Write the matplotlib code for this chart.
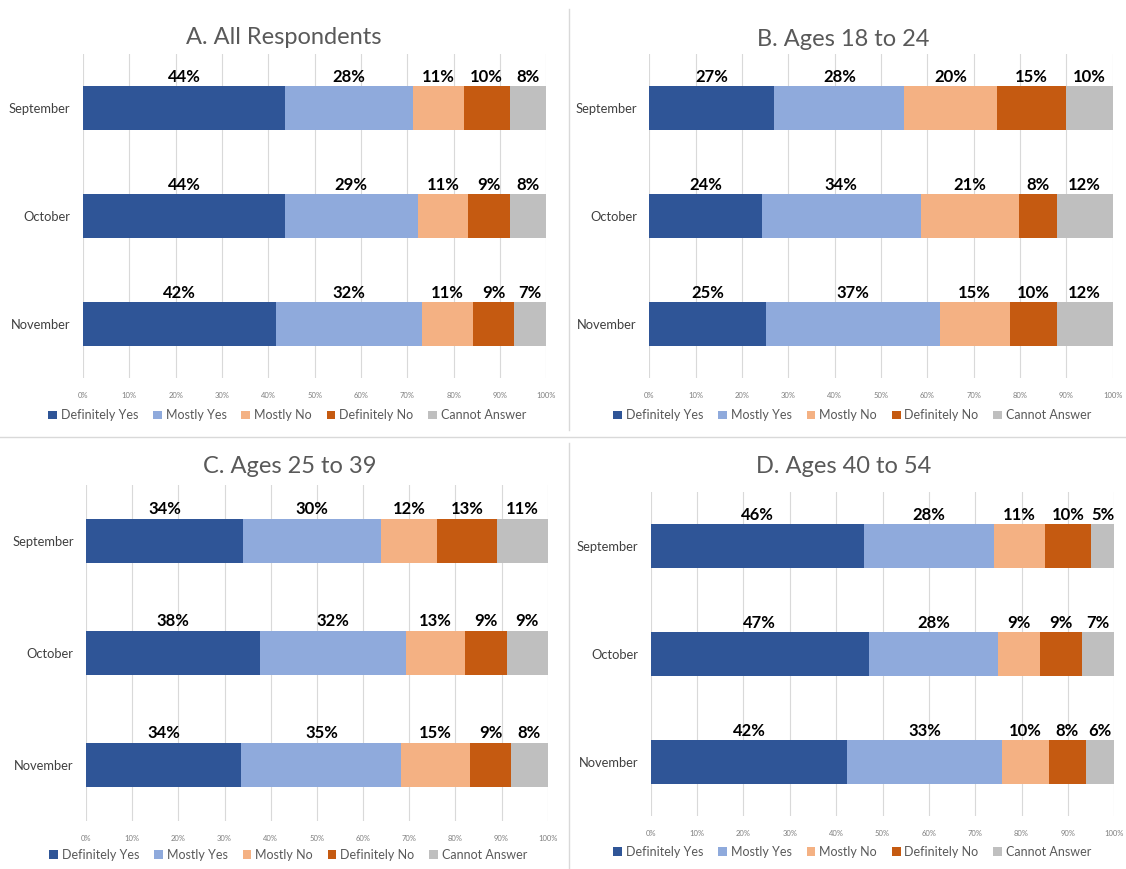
import numpy as np
import matplotlib
matplotlib.use("Agg")
from matplotlib import pyplot as plt
from matplotlib.patches import Patch
from matplotlib.lines import Line2D

plt.rcParams['font.family'] = ['Lato', 'DejaVu Sans']

months = ["September", "October", "November"]
answers = ["Definitely Yes", "Mostly Yes", "Mostly No", "Definitely No", "Cannot Answer"]
colors = ["#2F5597", "#8FAADC", "#F4B183", "#C55A11", "#BFBFBF"]

titles = ["A. All Respondents", "B. Ages 18 to 24", "C. Ages 25 to 39", "D. Ages 40 to 54"]

# rows: September, October, November; columns: answers (percent labels as printed)
all_resp = [[44, 28, 11, 10, 8],
            [44, 29, 11, 9, 8],
            [42, 32, 11, 9, 7]]
ages_18_24 = [[27, 28, 20, 15, 10],
              [24, 34, 21, 8, 12],
              [25, 37, 15, 10, 12]]
ages_25_39 = [[34, 30, 12, 13, 11],
              [38, 32, 13, 9, 9],
              [34, 35, 15, 9, 8]]
ages_40_54 = [[46, 28, 11, 10, 5],
              [47, 28, 9, 9, 7],
              [42, 33, 10, 8, 6]]
panels = [all_resp, ages_18_24, ages_25_39, ages_40_54]

# axes rectangles, title positions, legend positions (figure fractions)
ax_rects = [[0.0737, 0.565, 0.4115, 0.373],
            [0.5767, 0.565, 0.4115, 0.373],
            [0.0764, 0.0552, 0.4100, 0.3867],
            [0.5780, 0.061, 0.4115, 0.3728]]
title_xy = [(0.252, 0.957), (0.749, 0.954), (0.2575, 0.463), (0.7496, 0.463)]
legend_xy = [(0.255, 0.522), (0.757, 0.522), (0.256, 0.016), (0.757, 0.020)]

fig = plt.figure(figsize=(11.26, 8.69), dpi=100)

for k, data in enumerate(panels):
    ax = fig.add_axes(ax_rects[k])
    vals = np.array(data, dtype=float)
    shares = vals / vals.sum(axis=1, keepdims=True) * 100
    y = np.arange(len(months))
    left = np.zeros(len(months))
    for j in range(len(answers)):
        ax.barh(y, shares[:, j], left=left, height=0.4, color=colors[j], zorder=3)
        for i in range(len(months)):
            ax.text(left[i] + shares[i, j] / 2, y[i] - 0.215, "%d%%" % vals[i, j],
                    ha="center", va="bottom", fontsize=12, fontweight="bold", color="black")
        left += shares[:, j]

    ax.set_xlim(0, 100)
    ax.set_ylim(2.5, -0.5)
    ax.set_yticks(y)
    ax.set_yticklabels(months, fontsize=9.3, color="#404040")
    ax.set_xticks(np.arange(0, 101, 10))
    ax.set_xticklabels(["%d%%" % t for t in range(0, 101, 10)], fontsize=5.5, color="#7F7F7F")
    ax.tick_params(length=0, pad=10)
    ax.tick_params(axis="y", pad=9)
    ax.grid(axis="x", color="#D9D9D9", linewidth=0.8, zorder=0)
    for s in ax.spines.values():
        s.set_visible(False)

    fig.text(*title_xy[k], titles[k], ha="center", va="center", fontsize=17, color="#595959")
    handles = [Patch(facecolor=c, edgecolor="none") for c in colors]
    fig.legend(handles, answers, loc="center", bbox_to_anchor=legend_xy[k], ncol=5, frameon=False,
               fontsize=9, labelcolor="#595959", handlelength=0.7, handleheight=0.7,
               handletextpad=0.3, columnspacing=1.2)

# panel dividers
fig.add_artist(Line2D([0.505, 0.505], [0.99, 0.505], transform=fig.transFigure, color="#D9D9D9", lw=1))
fig.add_artist(Line2D([0.505, 0.505], [0.49, 0.0], transform=fig.transFigure, color="#D9D9D9", lw=1))
fig.add_artist(Line2D([0.0, 1.0], [0.497, 0.497], transform=fig.transFigure, color="#D9D9D9", lw=1))

fig.savefig("out.png", dpi=100, facecolor="white")
